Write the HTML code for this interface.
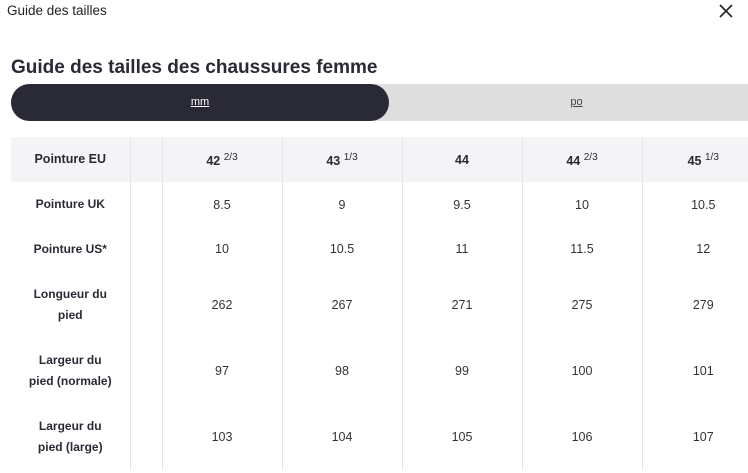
<!DOCTYPE html>
<html><head><meta charset="utf-8"><style>
*{margin:0;padding:0;box-sizing:border-box}
body{width:748px;height:473px;overflow:hidden;background:#fff;font-family:"Liberation Sans",sans-serif;color:#2a2a36;position:relative}
.a{position:absolute}
table{position:absolute;left:11px;top:137px;border-collapse:collapse;table-layout:fixed;width:753px}
td{text-align:center;vertical-align:middle;font-size:12.5px;color:#333;border-left:1px solid #e6e6e8;padding:0}
td:first-child{border-left:none;font-weight:bold;font-size:12px;line-height:21px;color:#2a2a36}
tr.h td{background:#f4f4f6;font-weight:bold;font-size:12.5px;color:#2a2a36}
sup{font-size:10px;font-weight:normal;vertical-align:5px}
</style></head><body>
<div class="a" style="left:7px;top:3px;font-size:13.5px;color:#222">Guide des tailles</div>
<svg class="a" style="left:719px;top:4px" width="14" height="14"><path d="M1 1L13 13M13 1L1 13" stroke="#222" stroke-width="1.6"/></svg>
<div class="a" style="left:11px;top:57px;font-size:19px;font-weight:bold;color:#2a2a36">Guide des tailles des chaussures femme</div>
<div class="a" style="left:11px;top:84px;width:760px;height:37px;background:#dedede;border-radius:19px"></div>
<div class="a" style="left:11px;top:84px;width:378px;height:37px;background:#2a2a36;border-radius:19px;color:#fff;font-size:11px;text-align:center;line-height:37px;text-decoration:underline">mm</div>
<div class="a" style="left:389px;top:84px;width:375px;height:37px;color:#444;font-size:11px;text-align:center;line-height:37px;text-decoration:underline">po</div>
<table>
<colgroup><col style="width:119px"><col style="width:32px"><col style="width:120px"><col style="width:120px"><col style="width:120px"><col style="width:120px"><col style="width:122px"></colgroup>
<tr class="h" style="height:45px"><td>Pointure EU</td><td></td><td>42 <sup>2/3</sup></td><td>43 <sup>1/3</sup></td><td>44</td><td>44 <sup>2/3</sup></td><td>45 <sup>1/3</sup></td></tr>
<tr style="height:45px"><td>Pointure UK</td><td></td><td>8.5</td><td>9</td><td>9.5</td><td>10</td><td>10.5</td></tr>
<tr style="height:44px"><td>Pointure US*</td><td></td><td>10</td><td>10.5</td><td>11</td><td>11.5</td><td>12</td></tr>
<tr style="height:67px"><td>Longueur du<br>pied</td><td></td><td>262</td><td>267</td><td>271</td><td>275</td><td>279</td></tr>
<tr style="height:66px"><td>Largeur du<br>pied (normale)</td><td></td><td>97</td><td>98</td><td>99</td><td>100</td><td>101</td></tr>
<tr style="height:66px"><td>Largeur du<br>pied (large)</td><td></td><td>103</td><td>104</td><td>105</td><td>106</td><td>107</td></tr>
</table>
</body></html>
